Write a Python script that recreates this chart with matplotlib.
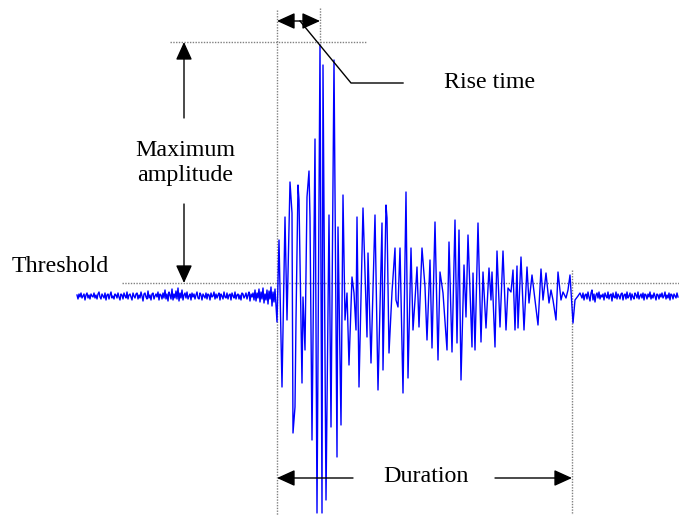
import numpy as np
import matplotlib
matplotlib.use("Agg")
import matplotlib.pyplot as plt

plt.rcParams['font.family'] = ['Liberation Serif', 'DejaVu Serif']

# pre-trigger noise, one sample per time unit starting at t=77
pre_t0 = 77
pre_noise = [1, -3, 2, -1, 3, -2, 0, 2, -4, 1, 3, -2, 1, -3, 2, 0, -1, 3, -2, 1,
             -3, 2, 4, -1, -3, 2, 0, -2, 3, -4, 1, 2, -3, 1, 4, -2, 0, -3, 2, 1,
             -2, 3, -1, -4, 2, 1, -3, 3, 0, -2, 4, -3, 1, 2, -1, -4, 3, 0, -2, 2,
             3, -3, 1, -2, 4, 0, -5, 2, 3, -1, -3, 5, -2, 1, -4, 2, 3, -3, 0, 2,
             -1, 4, -4, 2, 1, -3, 3, -2, 6, -3, 2, -5, 4, 1, -3, 7, -4, 2, -2, 5,
             -3, 8, -5, 3, -2, 6, -4, 1, 3, -2, 4, -3, 0, 2, -4, 3, -1, 2, -3, 1,
             4, -2, -3, 3, 1, -4, 2, 0, -2, 3, -3, 2, 1, -4, 3, -1, 0, 4, -3, 2,
             -2, 1, 3, -4, 2, 0, -3, 4, -1, -2, 3, -3, 1, 2, -4, 3, 0, -2, 4, -3,
             1, 2, -3, 1, -4, 3, 2, -2, 0, 3, -3, 1, 4, -5, 2, -1, 3, -4, 6, -5,
             3, -2, 7, -6, 4, -3, 8, -7, 2, -4, 6, -8, 5, -3, 9, -10, 4, -6, 7, -9]

# burst extrema (time, amplitude)
burst_t = [277, 279, 282, 285, 287, 290, 292, 293, 295, 296, 298, 299, 302, 303, 305,
           307, 309, 310, 312, 315, 317, 320, 322, 323, 326, 329, 331, 334, 337, 338,
           341, 343, 345, 347, 349, 352, 354, 356, 357, 359, 363, 367, 368, 371, 375,
           378, 382, 383, 386, 387, 389, 392, 395, 396, 398, 400, 403, 406, 408, 411,
           413, 415, 417, 419, 422, 425, 427, 430, 432, 435, 438, 440, 443, 447, 449,
           452, 455, 457, 459, 461, 464, 466, 468, 472, 473, 475, 478, 481, 483, 486,
           489, 491, 492, 495, 497, 500, 503, 506, 508, 511, 513, 515, 517, 518, 521,
           524, 527, 529, 532, 535, 538, 541, 543, 546, 549, 551, 553, 556, 558, 561,
           563, 566, 568, 570, 573, 575, 578, 580]
burst_a = [-26, 56, -91, 79, -24, 114, 83, -137, -111, -24, 111, 96, -87, -1, -54,
           99, 125, 78, -144, 157, -217, 251, -217, 231, -204, 81, -131, 236, -161, 69,
           -129, 101, -24, 3, -69, 19, 3, -34, 79, -91, 88, -41, 43, -67, 81,
           -94, 73, -74, 91, 78, -57, 4, 48, -4, -11, 48, -97, 104, -82, 48,
           -34, -4, 29, -31, 48, 9, -44, 36, -52, 74, -64, 24, 3, -54, 54,
           -56, 76, -47, 66, -84, 31, -21, 61, -51, 23, -54, 73, -46, 24, -32,
           28, -4, 24, -51, 45, -31, 45, -34, 8, 4, 26, -34, 30, -32, 39,
           -34, 29, -7, 21, -4, -29, 27, -4, 23, -7, 6, -4, -24, 24, -4,
           4, -2, 6, 21, -27, -4, 0, 3]

# post-burst noise, one sample per time unit starting at t=582
post_t0 = 582
post_noise = [-2, 3, -4, 1, 2, -3, 4, -1, -5, 3, 6, -4, 2, -6, 1, 3, -2, 4, -3, 1,
              -1, 2, -4, 3, 0, -2, 4, -3, 1, 2, -5, 3, -1, -2, 4, -3, 2, 0, -3, 2,
              3, -4, 1, 2, -3, 4, -2, 0, 3, -4, 2, -1, -3, 3, 1, -2, 4, -3, 0, 2,
              -2, 3, -4, 2, 1, -3, 2, -1, 4, -3, 1, -2, 3, 0, -4, 2, 1, -3, 2, -1,
              3, -2, 0, 4, -3, 1, -2, 3, -4, 2, 1, -3, 2, 0, -2, 3, -1]

threshold = 13
t_start, t_peak, t_end = 277, 320, 572
max_level = 254

t = np.concatenate([pre_t0 + np.arange(len(pre_noise)),
                    burst_t,
                    post_t0 + np.arange(len(post_noise))])
a = np.concatenate([pre_noise, burst_a, post_noise])

fig = plt.figure(figsize=(6.79, 5.15), dpi=100)
ax = fig.add_axes([0, 0, 1, 1])
ax.set_xlim(0, 679)
ax.set_ylim(-219, 296)
ax.axis('off')

dot = dict(color='#808080', lw=1.0, ls=(0, (1, 1)))
ax.plot([t_start, t_start], [286, -219], **dot)
ax.plot([t_peak, t_peak], [288, 251], **dot)
ax.plot([t_end, t_end], [26, -219], **dot)
ax.plot([170, 367], [max_level, max_level], **dot)
ax.plot([122, 679], [threshold, threshold], **dot)

ax.plot(t, a, color='#0000ff', lw=1.0)

fs = 17.3
head = '-|>,head_length=0.55,head_width=0.25'
arr = dict(arrowstyle=head, color='black', lw=1.0, mutation_scale=20,
           shrinkA=0, shrinkB=0)
# maximum amplitude
ax.annotate('', xy=(184, max_level), xytext=(184, 178), arrowprops=arr)
ax.annotate('', xy=(184, threshold), xytext=(184, 92), arrowprops=arr)
ax.text(185, 133, 'Maximum\namplitude', ha='center', va='center',
        fontsize=fs, linespacing=1.2)
ax.text(12, 30, 'Threshold', ha='left', va='center', fontsize=fs)

# rise time
ax.annotate('', xy=(t_start, 275), xytext=(t_peak, 275),
            arrowprops=dict(arr, arrowstyle='<|-|>,head_length=0.55,head_width=0.25'))
ax.plot([300, 351, 403], [275, 213, 213], color='black', lw=1.0)
ax.text(444, 213, 'Rise time', ha='left', va='center', fontsize=fs)

# duration
ax.annotate('', xy=(t_start, -182), xytext=(353, -182), arrowprops=arr)
ax.annotate('', xy=(t_end, -182), xytext=(495, -182), arrowprops=arr)
ax.text(426, -181, 'Duration', ha='center', va='center', fontsize=fs)

fig.savefig('out.png', dpi=100)
